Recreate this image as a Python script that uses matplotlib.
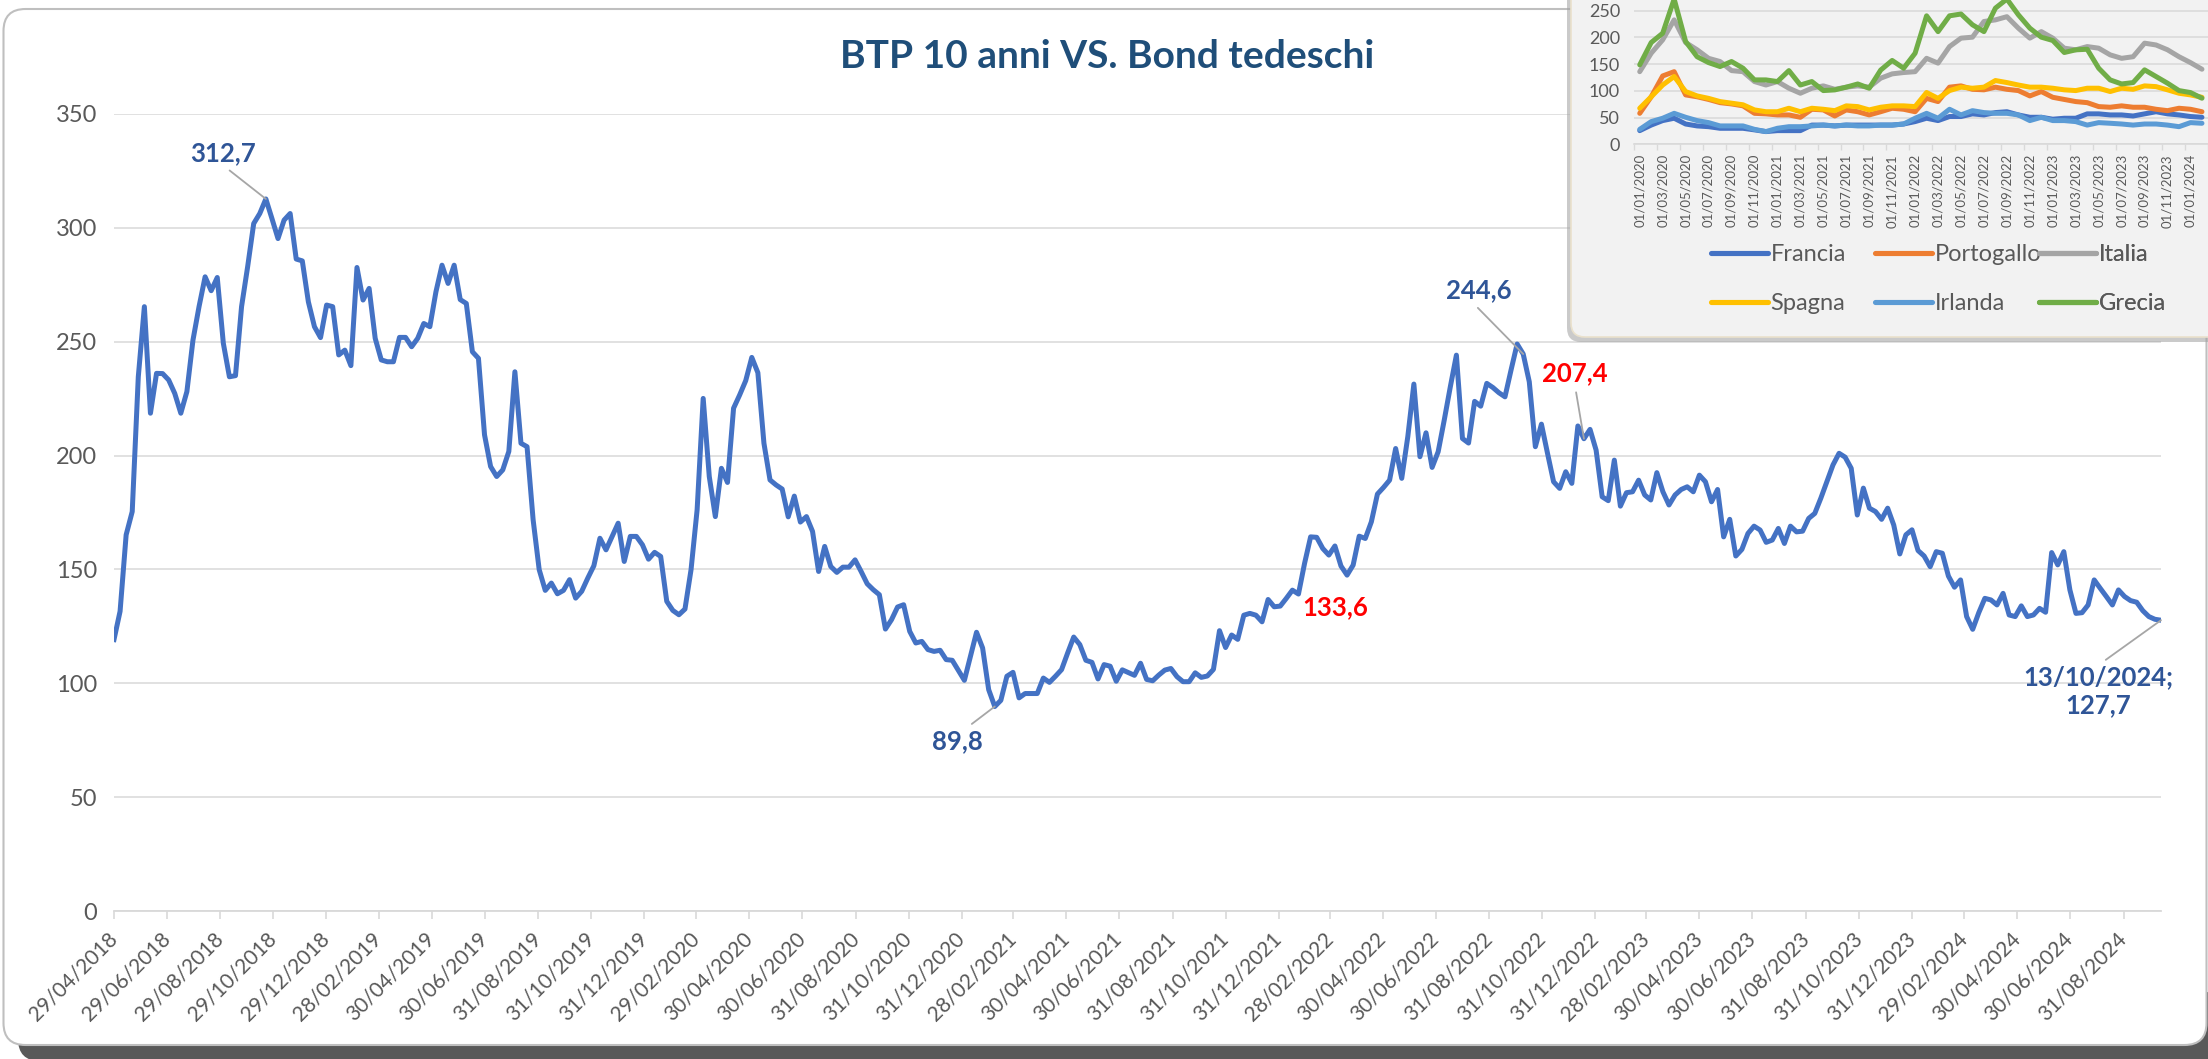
import matplotlib
matplotlib.use("Agg")
import matplotlib.pyplot as plt
from matplotlib.patches import FancyBboxPatch
from matplotlib.transforms import IdentityTransform
from matplotlib.lines import Line2D
import numpy as np
import pandas as pd

plt.rcParams['font.family'] = ['Lato', 'DejaVu Sans']

W, H = 2208, 1059

# weekly BTP-Bund spread (bp), Sundays from 29/04/2018 to 13/10/2024
start_date = "2018-04-29"
spread = [
    119.2, 131.6, 165.2, 175.4, 234.6, 265.4, 218.6, 236.1, 236.0, 233.2,
    227.3, 218.6, 228.1, 250.7, 265.4, 278.5, 272.4, 278.2, 249.3, 234.6,
    235.1, 265.4, 282.9, 301.9, 306.3, 312.7, 304.1, 295.3, 303.4, 306.3,
    286.3, 285.5, 267.5, 256.6, 251.8, 266.1, 265.4, 244.2, 246.3, 239.5,
    282.6, 268.3, 273.4, 251.5, 242.0, 241.2, 241.2, 251.9, 251.9, 247.8,
    251.5, 258.0, 256.6, 271.9, 283.6, 275.6, 283.6, 268.5, 266.8, 245.6,
    242.7, 209.1, 195.2, 190.8, 193.7, 201.8, 236.8, 205.4, 203.9, 171.8,
    149.9, 140.8, 144.0, 139.3, 140.8, 145.5, 137.4, 140.4, 146.2, 151.6,
    163.7, 158.6, 164.5, 170.3, 153.5, 164.5, 164.5, 160.8, 154.5, 157.5,
    155.7, 136.0, 132.0, 130.1, 132.6, 149.9, 176.2, 225.1, 190.8, 173.2,
    194.4, 188.2, 220.8, 226.6, 232.9, 243.1, 236.4, 205.4, 189.3, 187.1,
    185.3, 173.1, 182.2, 170.8, 173.2, 166.7, 149.1, 160.1, 151.3, 148.7,
    151.0, 151.0, 154.2, 149.1, 143.7, 141.1, 138.9, 123.8, 127.9, 133.5,
    134.5, 122.8, 117.7, 118.4, 114.8, 114.0, 114.5, 110.4, 110.1, 105.7,
    101.3, 111.8, 122.4, 115.5, 97.2, 89.8, 92.5, 103.1, 104.8, 93.6,
    95.5, 95.5, 95.5, 102.3, 100.4, 103.1, 106.0, 113.3, 120.3, 117.0,
    110.1, 109.2, 101.9, 108.2, 107.5, 100.9, 105.9, 104.7, 103.5, 108.8,
    101.7, 101.1, 103.6, 105.8, 106.5, 102.9, 100.7, 100.7, 104.6, 102.6,
    103.2, 106.1, 123.1, 115.7, 121.2, 119.3, 129.9, 130.7, 129.9, 127.0,
    136.8, 133.6, 133.9, 137.3, 140.9, 139.2, 152.6, 164.3, 164.1, 159.2,
    156.3, 160.3, 151.5, 147.5, 151.9, 164.6, 163.6, 170.9, 183.1, 186.0,
    189.2, 203.1, 190.0, 208.3, 231.4, 199.5, 210.0, 194.8, 201.7, 215.6,
    230.2, 244.1, 207.5, 205.5, 223.8, 221.7, 231.7, 229.9, 227.6, 225.8,
    237.6, 249.0, 244.6, 232.4, 203.9, 213.8, 201.0, 188.5, 185.6, 192.9,
    187.8, 213.0, 207.4, 211.5, 202.4, 181.9, 180.2, 198.0, 177.8, 183.7,
    184.1, 189.2, 182.7, 180.5, 192.5, 184.1, 178.3, 182.7, 185.1, 186.3,
    184.1, 191.4, 188.5, 179.7, 185.1, 164.3, 172.0, 155.9, 158.8, 165.8,
    169.0, 167.3, 161.9, 162.9, 168.0, 161.4, 169.0, 166.5, 166.8, 172.4,
    174.6, 181.3, 188.6, 195.9, 201.0, 199.3, 194.4, 173.9, 185.7, 176.9,
    175.4, 172.0, 176.9, 169.5, 156.8, 165.2, 167.4, 158.3, 155.9, 151.2,
    157.8, 157.1, 147.1, 142.2, 145.4, 129.3, 123.7, 131.0, 137.3, 136.6,
    134.4, 139.5, 130.0, 129.3, 134.0, 129.3, 130.0, 132.9, 131.2, 157.4,
    152.0, 157.8, 141.0, 130.7, 131.0, 134.4, 145.4, 141.7, 138.1, 134.4,
    141.0, 138.1, 136.3, 135.6, 131.9, 129.3, 128.1, 127.7,
]

tick_labels = [
    "29/04/2018", "29/06/2018", "29/08/2018", "29/10/2018", "29/12/2018",
    "28/02/2019", "30/04/2019", "30/06/2019", "31/08/2019", "31/10/2019",
    "31/12/2019", "29/02/2020", "30/04/2020", "30/06/2020", "31/08/2020",
    "31/10/2020", "31/12/2020", "28/02/2021", "30/04/2021", "30/06/2021",
    "31/08/2021", "31/10/2021", "31/12/2021", "28/02/2022", "30/04/2022",
    "30/06/2022", "31/08/2022", "31/10/2022", "31/12/2022", "28/02/2023",
    "30/04/2023", "30/06/2023", "31/08/2023", "31/10/2023", "31/12/2023",
    "29/02/2024", "30/04/2024", "30/06/2024", "31/08/2024",
]

# weeks that carry a data label
labelled_points = [25, 145, 191, 232, 242, 337]

# inset: monthly spreads vs Bund, from 01/01/2020
inset_start = "2020-01-01"
francia = [25.6, 36, 44.4, 48.8, 38, 34.4, 33, 30, 30, 30, 27, 23.8, 25.6, 25.6, 25.6,
           36, 36, 34.4, 36, 36, 36, 36, 36, 38, 42.5, 48.8, 44.4, 52, 52, 57, 55, 59.4,
           61, 55, 50.6, 50.6, 47, 48.8, 48.8, 57, 57, 55, 55, 53, 57, 61, 57, 55, 52, 50.6]
portogallo = [58, 89, 128, 136, 92.5, 89, 84, 78, 75.6, 72, 58, 57, 55, 55, 50.6, 65.6,
              64.4, 53, 64.4, 61, 55, 61, 67.5, 65.6, 61, 86, 80, 107, 109.4, 103, 102,
              107, 103, 100.6, 90.6, 98.8, 88, 84, 80, 78, 70.6, 69.4, 72, 69.4, 69.4,
              65.6, 63, 67.5, 65.6, 61]
italia = [136, 170.6, 195.6, 233, 190.6, 177, 161, 155, 138, 136, 117.5, 111, 117.5,
          105, 95.6, 105, 109.4, 103, 107, 109.4, 107, 123.8, 131.9, 134.4, 136, 161,
          152, 183, 198.8, 200.6, 230, 233, 239, 217.5, 198.8, 211, 198.8, 180, 177, 183,
          180, 167.5, 161, 164, 189.4, 186, 177, 164, 153, 140.6]
spagna = [67.5, 89, 111, 127, 98.8, 90.6, 86, 80, 77, 74, 64.4, 61, 61, 67.5, 61, 67.5,
          65.6, 63, 72, 70.6, 64.4, 69.4, 72, 72, 70.6, 97, 86, 100.6, 107, 105, 107,
          119.4, 115.6, 111, 107, 107, 105, 102, 100.6, 105, 105, 98.8, 105, 103, 109.4,
          108, 102, 95.6, 92.5, 88]
irlanda = [28, 42.5, 48.8, 58, 50.6, 44.4, 40.6, 34.4, 34.4, 34.4, 28, 23.8, 30, 33, 33,
           34.4, 36, 34.4, 36, 34.4, 34.4, 36, 36, 38, 48.8, 58, 48.8, 65.6, 55, 63, 59.4,
           58, 58, 55, 44.4, 50.6, 44.4, 44.4, 42.5, 36, 40.6, 39.4, 38, 36, 38, 38, 36,
           33, 40.6, 39.4]
grecia = [148.8, 190.6, 208, 272, 192.5, 164, 153, 145.6, 155, 142.5, 120.6, 120.6,
          117.5, 138, 111, 117.5, 100.6, 101.9, 107, 113, 105, 139, 157, 142.5, 170.6,
          240.6, 211, 240.6, 244, 223.8, 211, 255, 272, 242.5, 217.5, 200.6, 194.4,
          171.9, 176.9, 178, 142.5, 120.6, 113, 115.6, 139.4, 126.9, 114.4, 100.6, 96.9,
          86.3]
inset_series = [
    ("Francia", francia, "#4472C4"),
    ("Portogallo", portogallo, "#ED7D31"),
    ("Italia", italia, "#A5A5A5"),
    ("Spagna", spagna, "#FFC000"),
    ("Irlanda", irlanda, "#5B9BD5"),
    ("Grecia", grecia, "#70AD47"),
]

GREY_TXT = "#595959"
GRID = "#D9D9D9"
LBL_BLUE = "#2F5597"


def fx(x):
    return x / W


def fy(y):
    return 1 - y / H


dates = pd.date_range(start_date, periods=len(spread), freq="7D")
tick_dates = pd.to_datetime(tick_labels, format="%d/%m/%Y")

fig = plt.figure(figsize=(W / 100, H / 100), dpi=100, facecolor="white")

# chart frame + shadow (pixel coordinates)
shadow = FancyBboxPatch((18, -2), W - 5, 70, boxstyle="round,pad=0,rounding_size=22",
                        transform=IdentityTransform(), facecolor="#595959",
                        edgecolor="none", zorder=-6)
frame = FancyBboxPatch((3.5, H - 1045), W - 5, 1036, boxstyle="round,pad=0,rounding_size=22",
                       transform=IdentityTransform(), facecolor="white",
                       edgecolor="#BFBFBF", lw=1.5, zorder=-5)
fig.add_artist(shadow)
fig.add_artist(frame)

# main chart
ax = fig.add_axes([fx(114), fy(911), (2161 - 114) / W, (911 - 114) / H], zorder=1)
ax.set_facecolor("none")
ax.plot(dates, spread, color="#4472C4", lw=3.6, solid_joinstyle="round", zorder=3)
ax.set_xlim(dates[0], dates[-1])
ax.set_ylim(0, 350)
ax.set_yticks(np.arange(0, 351, 50))
ax.yaxis.grid(True, color=GRID, lw=1.1)
ax.set_axisbelow(True)
for s in ["left", "top", "right"]:
    ax.spines[s].set_visible(False)
ax.spines["bottom"].set_color(GRID)
ax.spines["bottom"].set_linewidth(1.3)
ax.tick_params(axis="y", length=0, pad=12, labelsize=17, labelcolor=GREY_TXT)
ax.set_xticks(tick_dates)
ax.set_xticklabels(tick_labels)
ax.tick_params(axis="x", length=6, width=1.2, color=GRID, pad=12,
               labelsize=15, labelcolor=GREY_TXT)
for t in ax.get_xticklabels():
    t.set_rotation(45)
    t.set_ha("right")
    t.set_va("center")
    t.set_rotation_mode("anchor")

title = "BTP 10 anni VS. Bond tedeschi"
fig.text(fx(1107), fy(56), title, ha="center", va="center", fontsize=28,
         fontweight="bold", color="#1F4E79")

# data labels (offset in points, leader-line anchor on the text box)
label_style = {
    25: dict(color=LBL_BLUE, off=(-31, 33), rel=(0.5, 0.0), line=True),
    145: dict(color=LBL_BLUE, off=(-27, -25), rel=(0.65, 1.0), line=True),
    191: dict(color="#FF0000", off=(44, 0), rel=(0.5, 0.5), line=False),
    232: dict(color=LBL_BLUE, off=(-32, 46), rel=(0.4, 0.0), line=True),
    242: dict(color="#FF0000", off=(-6.5, 47), rel=(0.5, 0.0), line=True),
    337: dict(color=LBL_BLUE, off=(-45, -51), rel=(0.5, 1.0), line=True),
}
for i in labelled_points:
    st = label_style[i]
    txt = f"{spread[i]:.1f}".replace(".", ",")
    if i == len(spread) - 1:
        txt = dates[i].strftime("%d/%m/%Y") + ";\n" + txt
    arrow = None
    if st["line"]:
        arrow = dict(arrowstyle="-", color="#A6A6A6", lw=1.3, shrinkA=3, shrinkB=0,
                     relpos=st["rel"])
    ax.annotate(txt, xy=(dates[i], spread[i]), xytext=st["off"],
                textcoords="offset points", ha="center", va="center",
                fontsize=18.5, fontweight="bold", color=st["color"],
                linespacing=1.2, arrowprops=arrow, zorder=4)

# inset chart (partly outside the figure, as in the original screenshot)
in_shadow = FancyBboxPatch((1567, H - 342), 900, 600, boxstyle="round,pad=0,rounding_size=14",
                           transform=IdentityTransform(), facecolor="#A0A0A0",
                           edgecolor="none", alpha=0.55, zorder=2)
in_frame = FancyBboxPatch((1571, H - 337), 900, 600, boxstyle="round,pad=0,rounding_size=14",
                          transform=IdentityTransform(), facecolor="#F2F2F2",
                          edgecolor="#EAE1CC", lw=1.2, zorder=2.5)
fig.add_artist(in_shadow)
fig.add_artist(in_frame)

months = pd.date_range(inset_start, periods=len(francia), freq="MS")
xm = np.arange(len(months))
axi = fig.add_axes([fx(1634), fy(144.3), (2288 - 1634) / W, (144.3 + 15.9) / H], zorder=3)
axi.set_facecolor("none")
handles = {}
for name, vals, col in inset_series:
    ln, = axi.plot(xm, vals, color=col, lw=3.6, solid_capstyle="round",
                   solid_joinstyle="round", label=name)
    handles[name] = ln
axi.set_xlim(-0.5, 56.5)
axi.set_ylim(0, 300)
axi.set_yticks(np.arange(0, 251, 50))
axi.yaxis.grid(True, color=GRID, lw=1.1)
axi.axhline(300, color=GRID, lw=1.1, zorder=0)
axi.set_axisbelow(True)
for s in ["left", "top", "right"]:
    axi.spines[s].set_visible(False)
axi.spines["bottom"].set_color(GRID)
axi.spines["bottom"].set_linewidth(1.2)
axi.tick_params(axis="y", length=0, pad=10, labelsize=13, labelcolor=GREY_TXT)
axi.set_xticks(xm[::2])
axi.set_xticklabels(months[::2].strftime("%d/%m/%Y"), rotation=90, va="top", ha="center")
axi.tick_params(axis="x", which="major", length=0, pad=7, labelsize=9.5, labelcolor=GREY_TXT)
axi.set_xticks(np.arange(-0.5, len(months), 2), minor=True)
axi.tick_params(axis="x", which="minor", length=4, width=1, color=GRID)

# legend laid out as Excel does: 3 columns on a regular grid, 2 rows
legend_cols = [("Francia", "Spagna"), ("Portogallo", "Irlanda"), ("Italia", "Grecia")]
col_x = [1711, 1875, 2039]
for names, x0 in zip(legend_cols, col_x):
    hs = [Line2D([], [], color=handles[n].get_color(), lw=3.7, solid_capstyle="round")
          for n in names]
    leg = axi.legend(hs, names, loc="upper left",
                     bbox_to_anchor=(fx(x0), fy(244)), bbox_transform=fig.transFigure,
                     frameon=False, fontsize=17, handlelength=2.4, handletextpad=0.12,
                     labelspacing=1.2, borderpad=0, borderaxespad=0,
                     labelcolor=GREY_TXT)
    axi.add_artist(leg)

fig.savefig("out.png", dpi=100)
